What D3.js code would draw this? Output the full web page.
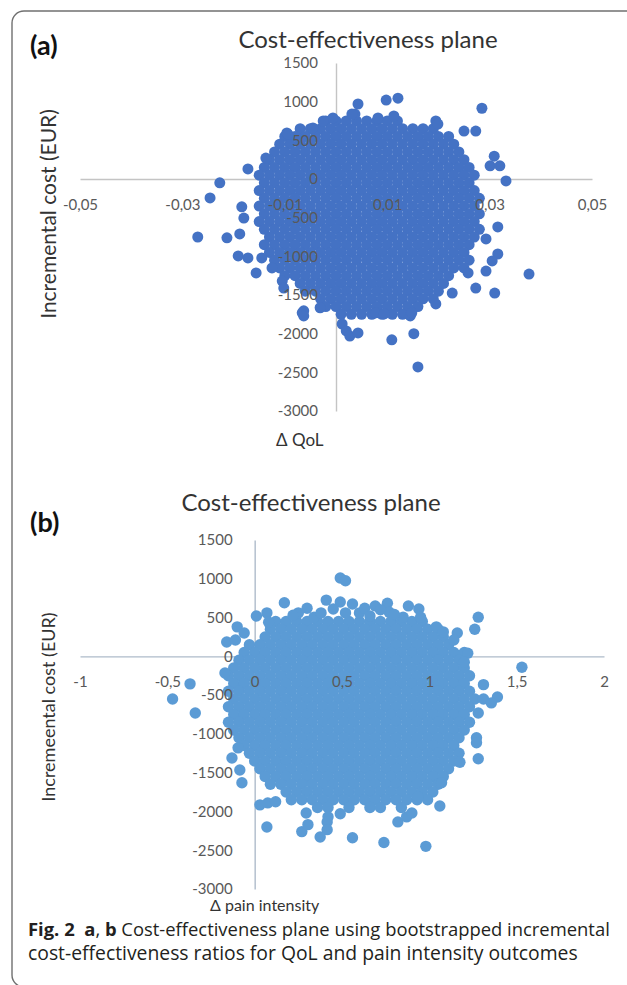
<!DOCTYPE html>
<html>
<head>
<meta charset="utf-8">
<script src="https://cdn.jsdelivr.net/npm/d3@7"></script>
<style>
  body { margin: 0; background: #fff; }
  svg { display: block; }
</style>
</head>
<body>
<svg id="chart" width="627" height="985"></svg>
<script>
// values (bootstrap replicates: Δ effect vs incremental cost, EUR)
// dense cloud is kept as rows: [incremental cost, [Δ effect, ...]]

// (a) Δ QoL
const qolCore = [
  [750, [-0.002, 0, 0.002, 0.004, 0.006, 0.008, 0.010, 0.012]],
  [650, [-0.007, -0.005, -0.003, -0.001, 0.001, 0.003, 0.005, 0.007, 0.009, 0.011, 0.013, 0.015, 0.017, 0.019]],
  [550, [-0.010, -0.008, -0.006, -0.004, -0.002, 0, 0.002, 0.004, 0.006, 0.008, 0.010, 0.012, 0.014, 0.016, 0.018, 0.020, 0.022]],
  [450, [-0.011, -0.009, -0.007, -0.005, -0.003, -0.001, 0.001, 0.003, 0.005, 0.007, 0.009, 0.011, 0.013, 0.015, 0.017, 0.019, 0.021, 0.023]],
  [350, [-0.012, -0.010, -0.008, -0.006, -0.004, -0.002, 0, 0.002, 0.004, 0.006, 0.008, 0.010, 0.012, 0.014, 0.016, 0.018, 0.020, 0.022, 0.024]],
  [250, [-0.013, -0.011, -0.009, -0.007, -0.005, -0.003, -0.001, 0.001, 0.003, 0.005, 0.007, 0.009, 0.011, 0.013, 0.015, 0.017, 0.019, 0.021, 0.023, 0.025]],
  [150, [-0.014, -0.012, -0.010, -0.008, -0.006, -0.004, -0.002, 0, 0.002, 0.004, 0.006, 0.008, 0.010, 0.012, 0.014, 0.016, 0.018, 0.020, 0.022, 0.024, 0.026]],
  [50, [-0.015, -0.013, -0.011, -0.009, -0.007, -0.005, -0.003, -0.001, 0.001, 0.003, 0.005, 0.007, 0.009, 0.011, 0.013, 0.015, 0.017, 0.019, 0.021, 0.023, 0.025, 0.027]],
  [-50, [-0.014, -0.012, -0.010, -0.008, -0.006, -0.004, -0.002, 0, 0.002, 0.004, 0.006, 0.008, 0.010, 0.012, 0.014, 0.016, 0.018, 0.020, 0.022, 0.024, 0.026]],
  [-150, [-0.015, -0.013, -0.011, -0.009, -0.007, -0.005, -0.003, -0.001, 0.001, 0.003, 0.005, 0.007, 0.009, 0.011, 0.013, 0.015, 0.017, 0.019, 0.021, 0.023, 0.025, 0.027]],
  [-250, [-0.014, -0.012, -0.010, -0.008, -0.006, -0.004, -0.002, 0, 0.002, 0.004, 0.006, 0.008, 0.010, 0.012, 0.014, 0.016, 0.018, 0.020, 0.022, 0.024, 0.026, 0.028]],
  [-350, [-0.015, -0.013, -0.011, -0.009, -0.007, -0.005, -0.003, -0.001, 0.001, 0.003, 0.005, 0.007, 0.009, 0.011, 0.013, 0.015, 0.017, 0.019, 0.021, 0.023, 0.025, 0.027]],
  [-450, [-0.014, -0.012, -0.010, -0.008, -0.006, -0.004, -0.002, 0, 0.002, 0.004, 0.006, 0.008, 0.010, 0.012, 0.014, 0.016, 0.018, 0.020, 0.022, 0.024, 0.026, 0.028]],
  [-550, [-0.015, -0.013, -0.011, -0.009, -0.007, -0.005, -0.003, -0.001, 0.001, 0.003, 0.005, 0.007, 0.009, 0.011, 0.013, 0.015, 0.017, 0.019, 0.021, 0.023, 0.025, 0.027]],
  [-650, [-0.014, -0.012, -0.010, -0.008, -0.006, -0.004, -0.002, 0, 0.002, 0.004, 0.006, 0.008, 0.010, 0.012, 0.014, 0.016, 0.018, 0.020, 0.022, 0.024, 0.026, 0.028]],
  [-750, [-0.013, -0.011, -0.009, -0.007, -0.005, -0.003, -0.001, 0.001, 0.003, 0.005, 0.007, 0.009, 0.011, 0.013, 0.015, 0.017, 0.019, 0.021, 0.023, 0.025, 0.027]],
  [-850, [-0.014, -0.012, -0.010, -0.008, -0.006, -0.004, -0.002, 0, 0.002, 0.004, 0.006, 0.008, 0.010, 0.012, 0.014, 0.016, 0.018, 0.020, 0.022, 0.024, 0.026]],
  [-950, [-0.013, -0.011, -0.009, -0.007, -0.005, -0.003, -0.001, 0.001, 0.003, 0.005, 0.007, 0.009, 0.011, 0.013, 0.015, 0.017, 0.019, 0.021, 0.023, 0.025]],
  [-1050, [-0.012, -0.010, -0.008, -0.006, -0.004, -0.002, 0, 0.002, 0.004, 0.006, 0.008, 0.010, 0.012, 0.014, 0.016, 0.018, 0.020, 0.022, 0.024, 0.026]],
  [-1150, [-0.011, -0.009, -0.007, -0.005, -0.003, -0.001, 0.001, 0.003, 0.005, 0.007, 0.009, 0.011, 0.013, 0.015, 0.017, 0.019, 0.021, 0.023, 0.025]],
  [-1250, [-0.010, -0.008, -0.006, -0.004, -0.002, 0, 0.002, 0.004, 0.006, 0.008, 0.010, 0.012, 0.014, 0.016, 0.018, 0.020, 0.022]],
  [-1350, [-0.007, -0.005, -0.003, -0.001, 0.001, 0.003, 0.005, 0.007, 0.009, 0.011, 0.013, 0.015, 0.017, 0.019, 0.021]],
  [-1450, [-0.006, -0.004, -0.002, 0, 0.002, 0.004, 0.006, 0.008, 0.010, 0.012, 0.014, 0.016, 0.018, 0.020]],
  [-1550, [-0.003, -0.001, 0.001, 0.003, 0.005, 0.007, 0.009, 0.011, 0.013, 0.015, 0.017, 0.019]],
  [-1650, [-0.002, 0, 0.002, 0.004, 0.006, 0.008, 0.010, 0.012, 0.014, 0.016]],
  [-1750, [0.001, 0.003, 0.005, 0.007, 0.009, 0.011, 0.013]]
];
// stray replicates around the cloud: [Δ QoL, cost]
const qolOutliers = [
  [0.0098, 1020], [0.0121, 1045], [0.0043, 970], [0.0285, 915], [0.0037, 840], [0.0031, 840],
  [-0.0006, 790], [-0.0025, 750], [-0.0045, 660], [-0.0096, 595], [-0.0070, 515], [-0.0094, 580],
  [0.0082, 790], [0.0113, 815], [0.0195, 750], [0.0199, 710], [0.0250, 620], [0.0273, 620],
  [-0.0137, 270], [-0.0172, 130], [-0.0227, -50], [-0.0246, -245], [0.0309, 295], [0.0301, 170],
  [0.0320, 170], [0.0332, -25], [-0.0184, -360], [-0.0180, -505], [-0.0270, -750], [-0.0213, -760],
  [-0.0188, -710], [0.0316, -620], [0.0293, -775], [-0.0191, -995], [-0.0172, -1020], [-0.0145, -1020],
  [-0.0156, -1215], [-0.0125, -1150], [0.0316, -970], [0.0305, -1060], [0.0293, -1190], [0.0258, -1215],
  [0.0377, -1230], [0.0273, -1410], [0.0310, -1475], [-0.0105, -1320], [-0.0102, -1410], [0.0227, -1475],
  [-0.0063, -1705], [-0.0066, -1730], [-0.0063, -1770], [-0.0031, -1665], [0.0012, -1875], [0.0020, -1965],
  [0.0027, -2030], [0.0043, -1990], [0.0109, -2080], [0.0152, -2000], [0.0160, -2430], [0.0145, -1770],
  [0.0148, -1730], [0.0195, -1615], [0.0078, -1730], [0.0094, -1745]
];
const qolTicks = [-0.05, -0.03, -0.01, 0.01, 0.03, 0.05];

// (b) Δ pain intensity
const painCore = [
  [450, [0.12, 0.18, 0.24, 0.30, 0.36, 0.42, 0.48, 0.54, 0.60, 0.66, 0.72, 0.78, 0.84, 0.90, 0.96]],
  [350, [0.09, 0.15, 0.21, 0.27, 0.33, 0.39, 0.45, 0.51, 0.57, 0.63, 0.69, 0.75, 0.81, 0.87, 0.93, 0.99, 1.05]],
  [250, [0.06, 0.12, 0.18, 0.24, 0.30, 0.36, 0.42, 0.48, 0.54, 0.60, 0.66, 0.72, 0.78, 0.84, 0.90, 0.96, 1.02, 1.08]],
  [150, [-0.03, 0.03, 0.09, 0.15, 0.21, 0.27, 0.33, 0.39, 0.45, 0.51, 0.57, 0.63, 0.69, 0.75, 0.81, 0.87, 0.93, 0.99, 1.05, 1.11]],
  [50, [-0.06, 0, 0.06, 0.12, 0.18, 0.24, 0.30, 0.36, 0.42, 0.48, 0.54, 0.60, 0.66, 0.72, 0.78, 0.84, 0.90, 0.96, 1.02, 1.08, 1.14, 1.20]],
  [-50, [-0.09, -0.03, 0.03, 0.09, 0.15, 0.21, 0.27, 0.33, 0.39, 0.45, 0.51, 0.57, 0.63, 0.69, 0.75, 0.81, 0.87, 0.93, 0.99, 1.05, 1.11, 1.17]],
  [-150, [-0.12, -0.06, 0, 0.06, 0.12, 0.18, 0.24, 0.30, 0.36, 0.42, 0.48, 0.54, 0.60, 0.66, 0.72, 0.78, 0.84, 0.90, 0.96, 1.02, 1.08, 1.14, 1.20]],
  [-250, [-0.15, -0.09, -0.03, 0.03, 0.09, 0.15, 0.21, 0.27, 0.33, 0.39, 0.45, 0.51, 0.57, 0.63, 0.69, 0.75, 0.81, 0.87, 0.93, 0.99, 1.05, 1.11, 1.17, 1.23]],
  [-350, [-0.12, -0.06, 0, 0.06, 0.12, 0.18, 0.24, 0.30, 0.36, 0.42, 0.48, 0.54, 0.60, 0.66, 0.72, 0.78, 0.84, 0.90, 0.96, 1.02, 1.08, 1.14, 1.20]],
  [-450, [-0.15, -0.09, -0.03, 0.03, 0.09, 0.15, 0.21, 0.27, 0.33, 0.39, 0.45, 0.51, 0.57, 0.63, 0.69, 0.75, 0.81, 0.87, 0.93, 0.99, 1.05, 1.11, 1.17, 1.23]],
  [-550, [-0.12, -0.06, 0, 0.06, 0.12, 0.18, 0.24, 0.30, 0.36, 0.42, 0.48, 0.54, 0.60, 0.66, 0.72, 0.78, 0.84, 0.90, 0.96, 1.02, 1.08, 1.14, 1.20, 1.26]],
  [-650, [-0.15, -0.09, -0.03, 0.03, 0.09, 0.15, 0.21, 0.27, 0.33, 0.39, 0.45, 0.51, 0.57, 0.63, 0.69, 0.75, 0.81, 0.87, 0.93, 0.99, 1.05, 1.11, 1.17, 1.23]],
  [-750, [-0.12, -0.06, 0, 0.06, 0.12, 0.18, 0.24, 0.30, 0.36, 0.42, 0.48, 0.54, 0.60, 0.66, 0.72, 0.78, 0.84, 0.90, 0.96, 1.02, 1.08, 1.14, 1.20]],
  [-850, [-0.15, -0.09, -0.03, 0.03, 0.09, 0.15, 0.21, 0.27, 0.33, 0.39, 0.45, 0.51, 0.57, 0.63, 0.69, 0.75, 0.81, 0.87, 0.93, 0.99, 1.05, 1.11, 1.17, 1.23]],
  [-950, [-0.12, -0.06, 0, 0.06, 0.12, 0.18, 0.24, 0.30, 0.36, 0.42, 0.48, 0.54, 0.60, 0.66, 0.72, 0.78, 0.84, 0.90, 0.96, 1.02, 1.08, 1.14, 1.20]],
  [-1050, [-0.09, -0.03, 0.03, 0.09, 0.15, 0.21, 0.27, 0.33, 0.39, 0.45, 0.51, 0.57, 0.63, 0.69, 0.75, 0.81, 0.87, 0.93, 0.99, 1.05, 1.11, 1.17]],
  [-1150, [-0.06, 0, 0.06, 0.12, 0.18, 0.24, 0.30, 0.36, 0.42, 0.48, 0.54, 0.60, 0.66, 0.72, 0.78, 0.84, 0.90, 0.96, 1.02, 1.08, 1.14]],
  [-1250, [-0.03, 0.03, 0.09, 0.15, 0.21, 0.27, 0.33, 0.39, 0.45, 0.51, 0.57, 0.63, 0.69, 0.75, 0.81, 0.87, 0.93, 0.99, 1.05, 1.11, 1.17]],
  [-1350, [0, 0.06, 0.12, 0.18, 0.24, 0.30, 0.36, 0.42, 0.48, 0.54, 0.60, 0.66, 0.72, 0.78, 0.84, 0.90, 0.96, 1.02, 1.08, 1.14]],
  [-1450, [0.03, 0.09, 0.15, 0.21, 0.27, 0.33, 0.39, 0.45, 0.51, 0.57, 0.63, 0.69, 0.75, 0.81, 0.87, 0.93, 0.99, 1.05, 1.11]],
  [-1550, [0.06, 0.12, 0.18, 0.24, 0.30, 0.36, 0.42, 0.48, 0.54, 0.60, 0.66, 0.72, 0.78, 0.84, 0.90, 0.96, 1.02, 1.08]],
  [-1650, [0.09, 0.15, 0.21, 0.27, 0.33, 0.39, 0.45, 0.51, 0.57, 0.63, 0.69, 0.75, 0.81, 0.87, 0.93, 0.99, 1.05]],
  [-1750, [0.18, 0.24, 0.30, 0.36, 0.42, 0.48, 0.54, 0.60, 0.66, 0.72, 0.78, 0.84, 0.90, 0.96, 1.02]],
  [-1850, [0.21, 0.27, 0.33, 0.39, 0.45, 0.51, 0.57, 0.63, 0.69, 0.75, 0.81, 0.87, 0.93, 0.99]],
  [-1950, [0.36, 0.42, 0.54, 0.66, 0.72, 0.84]]
];
const painOutliers = [
  [0.49, 1010], [0.52, 975], [0.17, 690], [0.41, 725], [0.49, 700], [0.56, 675], [0.69, 650],
  [0.76, 685], [0.77, 570], [0.88, 650], [0.94, 610], [0.34, 505], [0.25, 560], [0.22, 530],
  [0.01, 520], [0.07, 560], [0.08, 440], [0.60, 560], [0.85, 505], [0.95, 505], [1.04, 380],
  [0.45, 610], [0.63, 620], [0.72, 600], [0.30, 620], [0.52, 560], [0.66, 520], [0.80, 540], [0.38, 560],
  [-0.10, 380], [-0.06, 300], [-0.16, 185], [-0.11, 210], [1.08, 315], [1.16, 300], [1.14, 210],
  [1.26, 350], [1.28, 505], [1.22, 40], [1.20, -75], [1.53, -140], [-0.17, -215], [-0.37, -355],
  [-0.47, -550], [-0.34, -730], [1.31, -365], [1.31, -550], [1.39, -525], [1.355, -600], [1.28, -730],
  [1.27, -1050], [1.27, -1115], [1.28, -1320], [1.175, -1365], [-0.095, -1180], [-0.13, -1310],
  [-0.085, -1465], [-0.073, -1630], [0.03, -1915], [0.075, -1890], [0.12, -1875], [0.07, -2200],
  [0.295, -2020], [0.27, -2260], [0.305, -2170], [0.42, -2070], [0.415, -2135], [0.415, -2235],
  [0.49, -2030], [0.375, -2330], [0.56, -2340], [0.74, -2400], [0.98, -2450], [0.82, -2135],
  [0.87, -2070], [0.90, -2020], [1.06, -1930], [1.07, -1630], [0.935, -1810]
];
const painTicks = [-1, -0.5, 0, 0.5, 1, 1.5, 2];

const costTicks = [1500, 1000, 500, 0, -500, -1000, -1500, -2000, -2500, -3000];

const FONT = "Lato, 'Open Sans', sans-serif";
const euro = d3.formatLocale({ decimal: ',', thousands: '.', grouping: [3], currency: ['', ' €'], minus: '-' });

const svg = d3.select('#chart');

// page frame (clipped on the right and bottom like the scan)
svg.append('rect')
  .attr('x', 12).attr('y', 11).attr('width', 660).attr('height', 976)
  .attr('rx', 12)
  .attr('fill', 'none').attr('stroke', '#707070').attr('stroke-width', 1.4);

function drawPlane(cfg) {
  const x = d3.scaleLinear().domain(d3.extent(cfg.xTicks)).range(cfg.xRange);
  const y = d3.scaleLinear().domain([-3000, 1500]).range(cfg.yRange);

  const points = cfg.core.flatMap(([cost, deltas]) => deltas.map(d => ({ d, cost })))
    .concat(cfg.outliers.map(([d, cost]) => ({ d, cost })));

  const xAxis = d3.axisBottom(x)
    .tickValues(cfg.xTicks)
    .tickSize(0)
    .tickSizeOuter(0)
    .tickPadding(cfg.xPad)
    .tickFormat(cfg.xFormat);
  const yAxis = d3.axisLeft(y)
    .tickValues(costTicks)
    .tickSize(0)
    .tickSizeOuter(0)
    .tickPadding(cfg.yPad)
    .tickFormat(euro.format('d'));

  // axis lines go under the dots
  const lines = svg.append('g');
  lines.append('g').attr('transform', `translate(0,${y(0)})`).call(xAxis);
  lines.append('g').attr('transform', `translate(${x(0)},0)`).call(yAxis);
  lines.selectAll('.tick').remove();
  lines.selectAll('.domain').attr('stroke', cfg.lineColor).attr('stroke-width', 1.4);

  svg.append('g')
    .selectAll('circle')
    .data(points)
    .join('circle')
    .attr('cx', p => x(p.d))
    .attr('cy', p => y(p.cost))
    .attr('r', cfg.r)
    .attr('fill', cfg.color);

  // tick labels are drawn over the cloud, as Excel does
  const labels = svg.append('g');
  labels.append('g').attr('transform', `translate(0,${y(0)})`).call(xAxis);
  labels.append('g').attr('transform', `translate(${x(0)},0)`).call(yAxis);
  labels.selectAll('.domain').remove();
  labels.selectAll('g')
    .attr('font-family', FONT)
    .attr('font-size', cfg.tickFont);
  labels.selectAll('text').attr('fill', '#595959');

  svg.append('text')
    .attr('x', cfg.title[0]).attr('y', cfg.title[1])
    .attr('text-anchor', 'middle')
    .attr('font-family', FONT).attr('font-size', 24)
    .attr('fill', '#333')
    .text('Cost-effectiveness plane');

  svg.append('text')
    .attr('x', cfg.tag[0]).attr('y', cfg.tag[1])
    .attr('font-family', FONT).attr('font-size', 27).attr('font-weight', 700)
    .attr('fill', '#111')
    .text(cfg.tagText);

  svg.append('text')
    .attr('transform', `translate(${cfg.yTitle[0]},${cfg.yTitle[1]}) rotate(-90)`)
    .attr('text-anchor', 'middle')
    .attr('font-family', FONT).attr('font-size', cfg.yTitleFont)
    .attr('fill', '#333')
    .text(cfg.yTitleText);

  svg.append('text')
    .attr('x', cfg.xTitle[0]).attr('y', cfg.xTitle[1])
    .attr('font-family', FONT).attr('font-size', cfg.xTitleFont)
    .attr('fill', '#333')
    .text(cfg.xTitleText);
}

drawPlane({
  core: qolCore, outliers: qolOutliers,
  xTicks: qolTicks, xFormat: euro.format('.2f'),
  xRange: [80, 592], yRange: [411, 63],
  xPad: 20, yPad: 18, tickFont: 15,
  r: 5.5, color: '#4472C4', lineColor: '#C4C4C4',
  title: [368, 48], tag: [30, 55], tagText: '(a)',
  yTitle: [56, 214], yTitleFont: 21, yTitleText: 'Incremental cost (EUR)',
  xTitle: [276, 446], xTitleFont: 17, xTitleText: 'Δ QoL'
});

drawPlane({
  core: painCore, outliers: painOutliers,
  xTicks: painTicks, xFormat: euro.format('~g'),
  xRange: [80, 604], yRange: [889, 540],
  xPad: 20, yPad: 22, tickFont: 15,
  r: 5.7, color: '#5B9BD5', lineColor: '#AEBBCA',
  title: [311, 511], tag: [30, 532], tagText: '(b)',
  yTitle: [55, 707], yTitleFont: 18, yTitleText: 'Incremeental cost (EUR)',
  xTitle: [210, 911], xTitleFont: 16, xTitleText: 'Δ pain intensity'
});

// figure caption, sized to span the same width as the original
function caption(parts, yPos, width) {
  const t = svg.append('text')
    .attr('x', 28).attr('y', yPos)
    .attr('font-family', "'Open Sans', 'Noto Sans', sans-serif")
    .attr('font-size', 17)
    .attr('fill', '#231f20')
    .style('white-space', 'pre');
  parts.forEach(([s, bold]) => t.append('tspan').attr('font-weight', bold ? 700 : 400).text(s));
  const w = t.node().getBBox().width;
  t.attr('font-size', 17 * width / w);
}
caption([['Fig. 2', true], ['  ', false], ['a', true], [', ', false], ['b', true],
  [' Cost-effectiveness plane using bootstrapped incremental', false]], 936, 582);
caption([['cost-effectiveness ratios for QoL and pain intensity outcomes', false]], 960, 550);
</script>
</body>
</html>
